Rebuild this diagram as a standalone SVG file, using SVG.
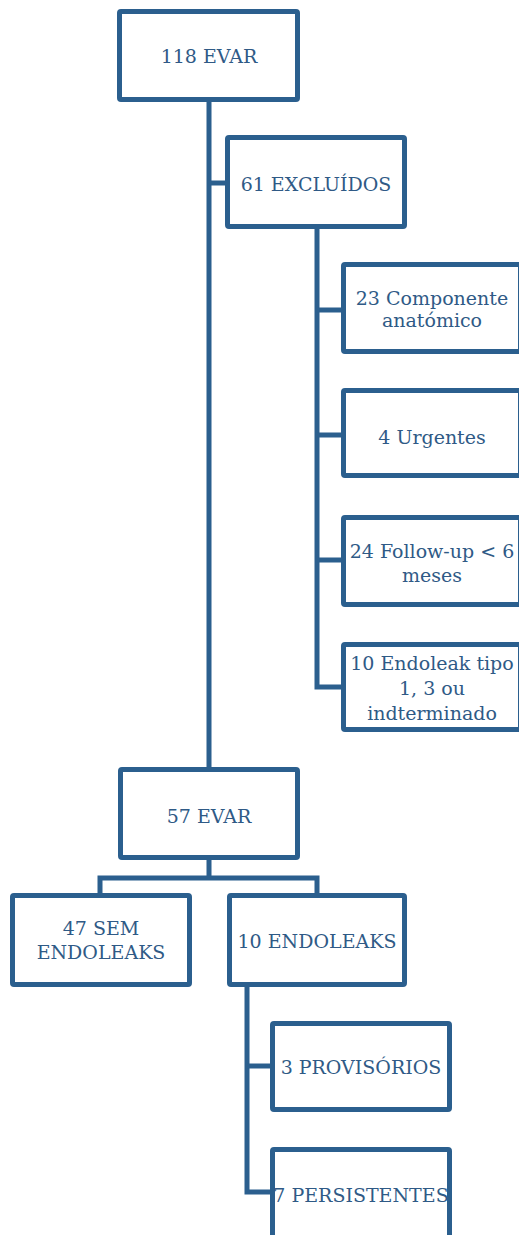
<svg xmlns="http://www.w3.org/2000/svg" width="519" height="1235" viewBox="0 0 519 1235">
<style>
.box{fill:#ffffff;stroke:#2b5f8e;stroke-width:5;}
.ln{fill:none;stroke:#2b5f8e;stroke-width:5;stroke-linecap:butt;stroke-linejoin:miter;}
text{font-family:"DejaVu Serif","Liberation Serif",serif;font-size:19px;fill:#2f5a86;text-anchor:middle;}
</style>
<rect width="519" height="1235" fill="#ffffff"/>
<g id="connectors">
<path class="ln" d="M209,100 V769"/>
<path class="ln" d="M209,183 H228"/>
<path class="ln" d="M317,227 V689.5 M317,687 H344"/>
<path class="ln" d="M317,310 H344 M317,435 H344 M317,560 H344"/>
<path class="ln" d="M209,858 V878 M97.5,878 H319.5 M100,875.5 V896 M317,875.5 V896"/>
<path class="ln" d="M247,985 V1194.5 M247,1192 H273"/>
<path class="ln" d="M247,1066 H273"/>
</g>
<g id="n118">
<rect class="box" x="119.5" y="11.5" width="178" height="88" rx="1.5"/>
<text x="209" y="63">118 EVAR</text>
</g>
<g id="n61">
<rect class="box" x="227.5" y="137.5" width="177" height="89" rx="1.5"/>
<text x="316" y="191">61 EXCLUÍDOS</text>
</g>
<g id="n23">
<rect class="box" x="343.5" y="264.5" width="177" height="87" rx="1.5"/>
<text x="432" y="305">23 Componente</text>
<text x="432" y="327">anatómico</text>
</g>
<g id="n4">
<rect class="box" x="343.5" y="390.5" width="177" height="85" rx="1.5"/>
<text x="432" y="444">4 Urgentes</text>
</g>
<g id="n24">
<rect class="box" x="343.5" y="517.5" width="177" height="87" rx="1.5"/>
<text x="432" y="558">24 Follow-up &lt; 6</text>
<text x="432" y="582">meses</text>
</g>
<g id="n10e">
<rect class="box" x="343.5" y="644.5" width="177" height="85" rx="1.5"/>
<text x="432" y="670">10 Endoleak tipo</text>
<text x="432" y="695">1, 3 ou</text>
<text x="432" y="720">indterminado</text>
</g>
<g id="n57">
<rect class="box" x="120.5" y="769.5" width="177" height="88" rx="1.5"/>
<text x="209" y="823">57 EVAR</text>
</g>
<g id="n47">
<rect class="box" x="12.5" y="895.5" width="177" height="89" rx="1.5"/>
<text x="101" y="935">47 SEM</text>
<text x="101" y="959">ENDOLEAKS</text>
</g>
<g id="n10">
<rect class="box" x="229.5" y="895.5" width="175" height="89" rx="1.5"/>
<text x="317" y="948">10 ENDOLEAKS</text>
</g>
<g id="n3">
<rect class="box" x="272.5" y="1023.5" width="177" height="86" rx="1.5"/>
<text x="361" y="1074">3 PROVISÓRIOS</text>
</g>
<g id="n7">
<rect class="box" x="272.5" y="1149.5" width="177" height="100" rx="1.5"/>
<text x="361" y="1202">7 PERSISTENTES</text>
</g>
</svg>
